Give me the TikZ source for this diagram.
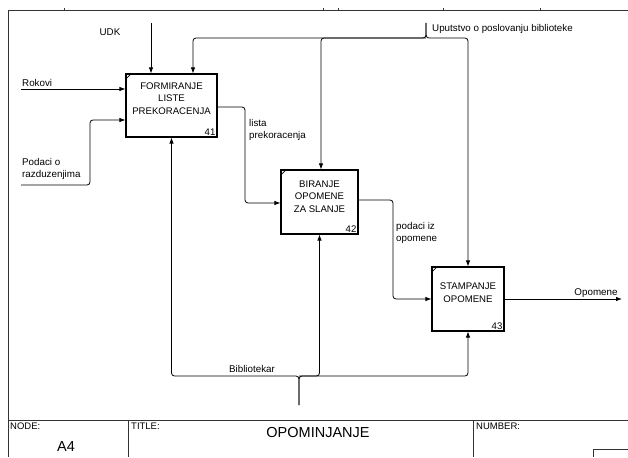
\documentclass[tikz,border=0pt]{standalone}
\usepackage{fontspec}
\setmainfont{Liberation Sans}
\usetikzlibrary{arrows.meta}

\begin{document}
\begin{tikzpicture}[x=1pt, y=-1pt, >={Latex[length=6pt,width=4.5pt]},
    box/.style={draw, line width=1.1pt, inner sep=0pt},
    boxtext/.style={align=center, font=\fontsize{9.6}{12.5}\selectfont, inner sep=0pt},
    boxnum/.style={anchor=south east, font=\fontsize{9.6}{10}\selectfont, inner sep=2pt},
    lbl/.style={font=\fontsize{9.8}{12}\selectfont, inner sep=0pt, align=left},
    small/.style={font=\fontsize{9.5}{10}\selectfont, inner sep=0pt, anchor=north west},
    big/.style={font=\fontsize{14.5}{16}\selectfont, inner sep=0pt},
    flow/.style={->, line width=0.8pt, rounded corners=3pt},
    frame/.style={line width=0.8pt, draw=black!80}]

    \useasboundingbox (0,0) rectangle (628,457);

    \draw[frame] (8,457) -- (8,10) -- (628,10);
    \foreach \t in {64,323,338,443,540}
        \draw[frame, line width=0.5pt] (\t,10) -- (\t,8.5);
    \draw[frame] (8,420) -- (628,420);
    \draw[frame] (128,420) -- (128,457);
    \draw[frame] (473,420) -- (473,457);
    \draw[frame] (593,457) -- (593,449) -- (628,449);

    \node[box, minimum width=91pt, minimum height=63pt] (b41) at (171.5,105.5) {};
    \node[box, minimum width=77pt, minimum height=64pt] (b42) at (319.5,202) {};
    \node[box, minimum width=72pt, minimum height=64pt] (b43) at (468,299) {};

    \node[boxtext] (t41) at ([yshift=7pt]b41.center) {FORMIRANJE\\LISTE\\PREKORACENJA};
    \node[boxtext] (t42) at ([yshift=5.5pt]b42.center) {BIRANJE\\OPOMENE\\ZA SLANJE};
    \node[boxtext] (t43) at ([yshift=6.5pt]b43.center) {STAMPANJE\\OPOMENE};
    \node[boxnum] (n41) at (b41.south east) {41};
    \node[boxnum] (n42) at (b42.south east) {42};
    \node[boxnum] (n43) at (b43.south east) {43};
    \foreach \b in {b41,b42,b43}
        \draw[line width=0.6pt] ([yshift=-6pt]\b.north west) -- ([xshift=6pt]\b.north west);

    \coordinate (udk) at (151,23);
    \coordinate (uput) at (426,23);
    \coordinate (ujoin) at (426,38);
    \coordinate (rok) at (21,89);
    \coordinate (podaci) at (21,185);
    \coordinate (opom) at (622,299);
    \coordinate (bib) at (299,405);
    \coordinate (bjoin) at (299,376);

    \draw[flow] (udk) -- (udk |- b41.north);
    \draw[flow] (uput) -- (ujoin) -| ([xshift=21.5pt]b41.north);
    \draw[flow] (uput) -- (ujoin) -| (b43.north);
    \draw[flow] (ujoin) -| ([xshift=1.5pt]b42.north);
    \draw[flow] (rok) -- (rok -| b41.west);
    \draw[flow] (podaci) -- (90,185) |- ([yshift=-14.5pt]b41.west);
    \draw[flow] ([yshift=-1.5pt]b41.east) -- (245,107) |- ([yshift=-1pt]b42.west);
    \draw[flow] ([yshift=2pt]b42.east) -- (393,200) |- (b43.west);
    \draw[flow] (b43.east) -- (opom);
    \draw[flow] (bib) -- (bjoin) -| (b41.south);
    \draw[flow] (bib) -- (bjoin) -| (b43.south);
    \draw[flow] (bjoin) -| (b42.south);

    \node[lbl] (ludk) at (110,32) {UDK};
    \node[lbl, anchor=west] (luput) at (432,29) {Uputstvo o poslovanju biblioteke};
    \node[lbl, anchor=west] (lrok) at (22,83) {Rokovi};
    \node[lbl, anchor=west] (lpod) at (22,169) {Podaci o\\razduzenjima};
    \node[lbl, anchor=west] (llista) at (249,130) {lista\\prekoracenja};
    \node[lbl, anchor=west] (lpiz) at (396,233) {podaci iz\\opomene};
    \node[lbl] (lopom) at (596,293) {Opomene};
    \node[lbl] (lbib) at (252,369) {Bibliotekar};

    \node[small] (lnode) at (10,423) {NODE:};
    \node[big] (lnum) at (66,447) {A4};
    \node[small] (ltitle) at (131,423) {TITLE:};
    \node[big] (ltit) at (318,433) {OPOMINJANJE};
    \node[small] (lnumber) at (476,423) {NUMBER:};
\end{tikzpicture}
\end{document}
